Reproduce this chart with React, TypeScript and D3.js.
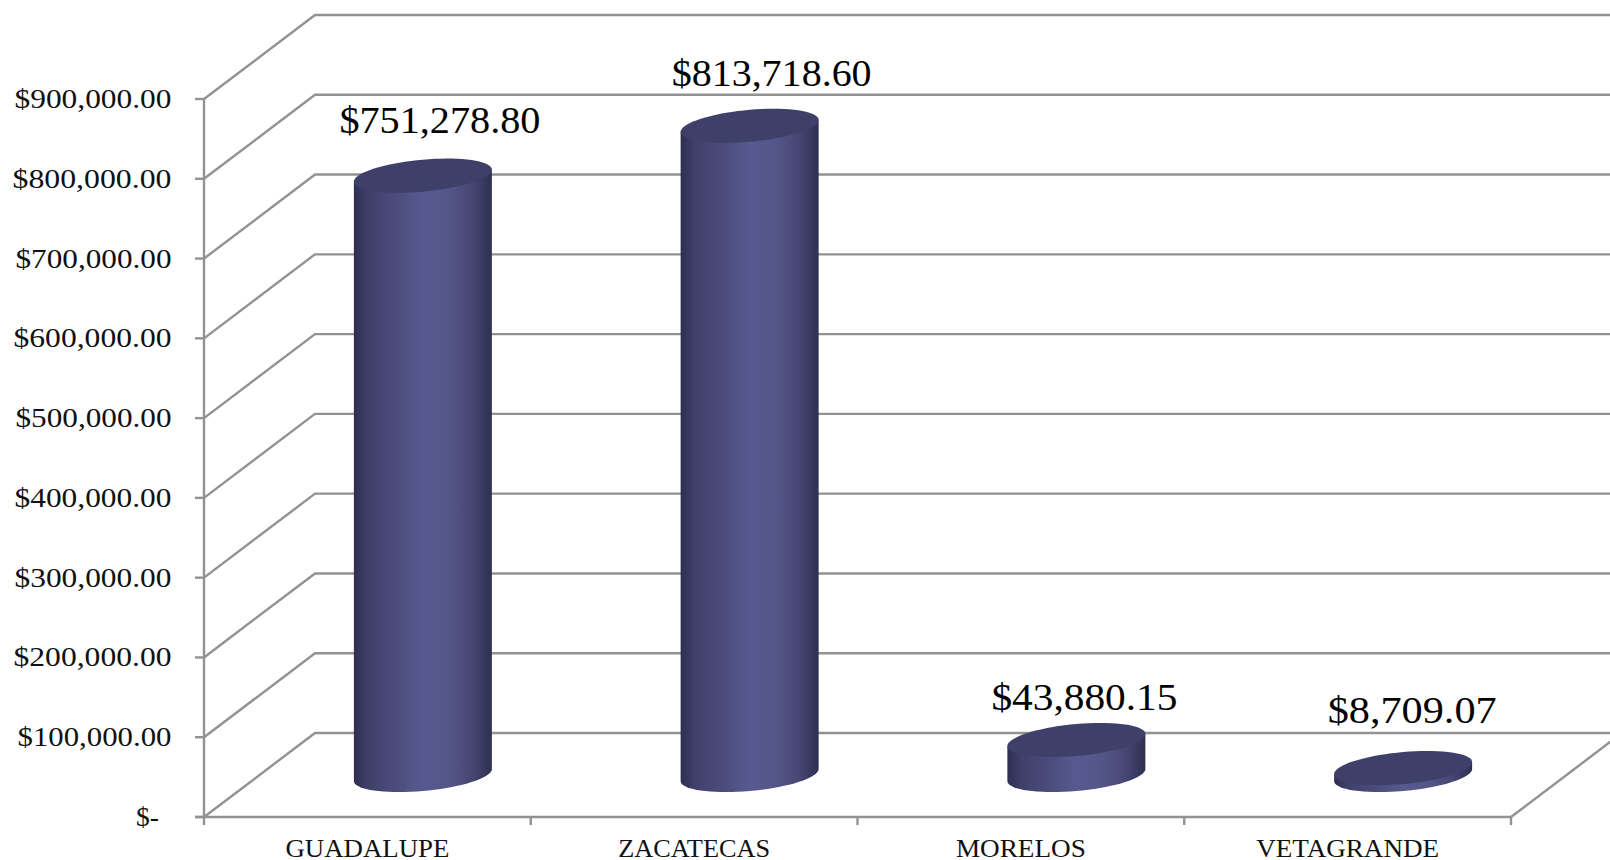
import React from "react";
import * as d3 from "d3";

const categories = ["GUADALUPE", "ZACATECAS", "MORELOS", "VETAGRANDE"];
const values = [751278.8, 813718.6, 43880.15, 8709.07];
const valueLabels = ["$751,278.80", "$813,718.60", "$43,880.15", "$8,709.07"];
const tickValues = [0, 100000, 200000, 300000, 400000, 500000, 600000, 700000, 800000, 900000];
const tickLabels = ["$-", "$100,000.00", "$200,000.00", "$300,000.00", "$400,000.00", "$500,000.00", "$600,000.00", "$700,000.00", "$800,000.00", "$900,000.00"];

// Layout (kept apart from the data)
const W = 1610, H = 860;
const FRONT_L = 204, FRONT_R = 1511, FRONT_Y0 = 817, FRONT_Y900 = 99;
const DX = 111, DY = 84;
const RX = 69, RY = 16, SHEAR = 6;
const FONT = "'Liberation Serif', serif";
const GRID = "#929292";
const tickLabelWidths = [23, 154, 158, 157, 157, 156, 158, 156, 159, 157];
const catLabelWidths = [164, 152, 130, 183];
const valueLabelWidths = [201, 200, 186, 169];
const valueLabelDx = [17, 22, 8, 9];
const valueLabelDy = [-43, -40, -30, -45];

const y = d3.scaleLinear().domain([0, 900000]).range([FRONT_Y0, FRONT_Y900]);
const x = d3.scaleBand<string>().domain(categories).range([FRONT_L, FRONT_R]);
const line = d3.line<[number, number]>();

const pt = (cx: number, cy: number, t: number): [number, number] => [
  cx + RX * Math.cos(t),
  cy + RY * Math.sin(t) - SHEAR * Math.cos(t),
];

function ellipsePath(cx: number, cy: number) {
  const pts = d3.range(0, 73).map((i) => pt(cx, cy, (i / 72) * 2 * Math.PI));
  return line(pts) + "Z";
}

function sidePath(cx: number, yTop: number, yBase: number) {
  const lower = d3.range(0, 37).map((i) => pt(cx, yBase, (i / 36) * Math.PI));
  const upper: [number, number][] = [pt(cx, yTop, Math.PI), pt(cx, yTop, 0)];
  return line([...lower, ...upper]) + "Z";
}

export default function App() {
  return (
    <svg
      width={W}
      height={H}
      viewBox={`0 0 ${W} ${H}`}
      style={{ position: "absolute", left: 0, top: 0, display: "block", background: "#fff" }}
    >
      <defs>
        <linearGradient id="cyl" x1="0" x2="1" y1="0" y2="0">
          <stop offset="0" stopColor="#2d2e50" />
          <stop offset="0.1" stopColor="#3f4069" />
          <stop offset="0.3" stopColor="#4b4c7c" />
          <stop offset="0.5" stopColor="#58598f" />
          <stop offset="0.72" stopColor="#535486" />
          <stop offset="0.88" stopColor="#43446e" />
          <stop offset="1" stopColor="#2e2f50" />
        </linearGradient>
      </defs>

      {/* walls: back gridlines and diagonals */}
      <g stroke={GRID} strokeWidth={2.4} fill="none">
        {tickValues.map((v) => (
          <path
            key={v}
            d={
              line([
                [FRONT_L, y(v)],
                [FRONT_L + DX, y(v) - DY],
                [W + 2, y(v) - DY],
              ]) as string
            }
          />
        ))}
        <line x1={FRONT_L} x2={FRONT_L} y1={y(900000)} y2={FRONT_Y0 + 8} />
        <line x1={FRONT_L - 9} x2={FRONT_R} y1={FRONT_Y0} y2={FRONT_Y0} />
        <line x1={FRONT_R} x2={FRONT_R + DX} y1={FRONT_Y0} y2={FRONT_Y0 - DY} />
        {tickValues.map((v) => (
          <line key={v} x1={FRONT_L - 9} x2={FRONT_L} y1={y(v)} y2={y(v)} />
        ))}
        {categories.map((c) => (
          <line key={c} x1={(x(c) as number) + x.bandwidth()} x2={(x(c) as number) + x.bandwidth()} y1={FRONT_Y0} y2={FRONT_Y0 + 8} />
        ))}
      </g>

      {/* cylinders */}
      {categories.map((c, i) => {
        const cx = (x(c) as number) + x.bandwidth() / 2 + DX / 2;
        const yBase = y(0) - DY / 2;
        const yTop = y(values[i]) - DY / 2;
        return (
          <g key={c}>
            <path d={sidePath(cx, yTop, yBase)} fill="url(#cyl)" />
            <path d={ellipsePath(cx, yTop)} fill="#3f4069" />
          </g>
        );
      })}

      {/* y tick labels */}
      <g fontFamily={FONT} fontSize={27} fill="#111">
        {tickValues.map((v, i) => {
          const right = i === 0 ? 159 : 171.5;
          return (
            <text
              key={v}
              x={right - tickLabelWidths[i]}
              y={y(v) + 9}
              textLength={tickLabelWidths[i]}
              lengthAdjust="spacingAndGlyphs"
            >
              {tickLabels[i]}
            </text>
          );
        })}
      </g>

      {/* category labels */}
      <g fontFamily={FONT} fontSize={26} fill="#111">
        {categories.map((c, i) => (
          <text
            key={c}
            x={(x(c) as number) + x.bandwidth() / 2 - catLabelWidths[i] / 2}
            y={857}
            textLength={catLabelWidths[i]}
            lengthAdjust="spacingAndGlyphs"
          >
            {c}
          </text>
        ))}
      </g>

      {/* value labels */}
      <g fontFamily={FONT} fontSize={37} fill="#000">
        {categories.map((c, i) => {
          const cx = (x(c) as number) + x.bandwidth() / 2 + DX / 2 + valueLabelDx[i];
          const yTop = y(values[i]) - DY / 2;
          return (
            <text
              key={c}
              x={cx - valueLabelWidths[i] / 2}
              y={yTop + valueLabelDy[i]}
              textLength={valueLabelWidths[i]}
              lengthAdjust="spacingAndGlyphs"
            >
              {valueLabels[i]}
            </text>
          );
        })}
      </g>
    </svg>
  );
}
